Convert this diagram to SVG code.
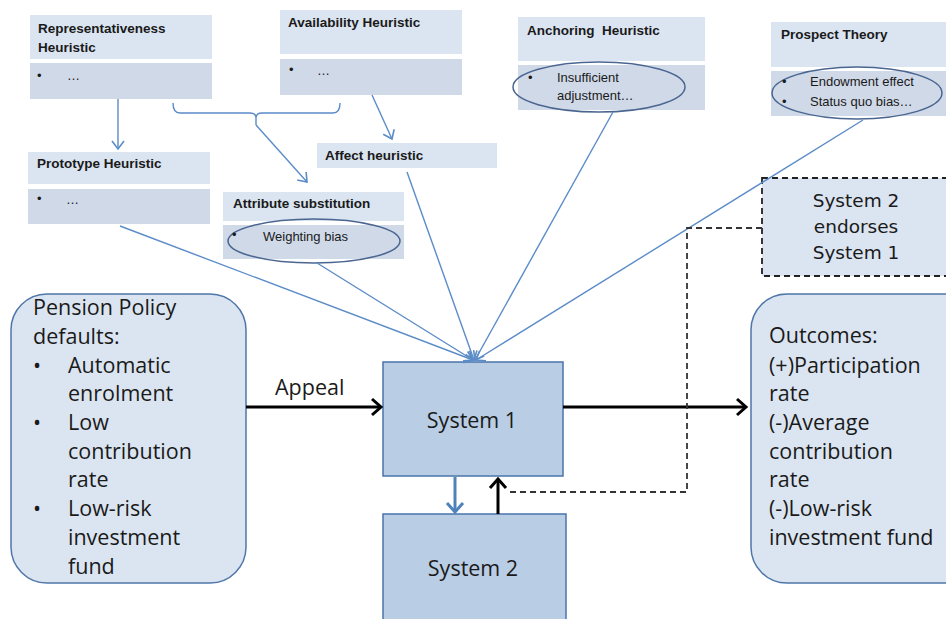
<svg xmlns="http://www.w3.org/2000/svg" width="946" height="619" viewBox="0 0 946 619">
<defs>
<style>
.hd{fill:#dbe5f1;}
.bl{fill:#d0d9e8;}
.ht{font-family:"Liberation Sans",Arial,sans-serif;font-weight:bold;font-size:13.5px;fill:#1a1a1a;}
.st{font-family:"Liberation Sans",Arial,sans-serif;font-size:13px;fill:#1a1a1a;}
.ell{fill:none;stroke:#4a6690;stroke-width:1.5;}
.big{font-family:"Open Sans","Liberation Sans",sans-serif;font-size:21.5px;fill:#1a1a1a;}
.rnd{fill:#dbe5f1;stroke:#4f76a8;stroke-width:1.5;}
.sys{fill:#b9cde5;stroke:#4a74aa;stroke-width:1.5;}
.comic{font-family:"DejaVu Sans",sans-serif;font-size:18.5px;fill:#1a1a1a;text-anchor:middle;}
.bc{fill:none;stroke:#5b8cc8;stroke-width:1.4;}
.blk{fill:none;stroke:#000;stroke-width:3;}
.dash{fill:none;stroke:#333;stroke-width:1.8;stroke-dasharray:6,4;}
</style>
<marker id="ab" markerUnits="userSpaceOnUse" markerWidth="16" markerHeight="16" viewBox="-10 -8 12 16" refX="0" refY="0" orient="auto">
<path d="M-8,-6 L0,0 L-8,6" fill="none" stroke="#5b8cc8" stroke-width="1.6"/>
</marker>
<marker id="abb" markerUnits="userSpaceOnUse" markerWidth="20" markerHeight="20" viewBox="-12 -10 14 20" refX="0" refY="0" orient="auto">
<path d="M-9,-8 L0,0 L-9,8" fill="none" stroke="#4f81bd" stroke-width="3"/>
</marker>
<marker id="ak" markerUnits="userSpaceOnUse" markerWidth="20" markerHeight="20" viewBox="-12 -10 14 20" refX="0" refY="0" orient="auto">
<path d="M-9,-8 L0,0 L-9,8" fill="none" stroke="#000" stroke-width="3"/>
</marker>
</defs>
<rect width="946" height="619" fill="#fff"/>

<g id="representativeness">
<rect class="hd" x="30" y="15" width="182" height="44"/>
<rect class="bl" x="30" y="63" width="182" height="36"/>
<text class="ht" x="38" y="33">Representativeness</text>
<text class="ht" x="38" y="52">Heuristic</text>
<text class="st" x="37" y="80">•</text>
<text class="st" x="67" y="80">…</text>
</g>

<g id="availability">
<rect class="hd" x="280" y="10" width="182" height="44"/>
<rect class="bl" x="280" y="59" width="182" height="36"/>
<text class="ht" x="288" y="27">Availability Heuristic</text>
<text class="st" x="289" y="74">•</text>
<text class="st" x="317" y="75">…</text>
</g>

<g id="anchoring">
<rect class="hd" x="518" y="17" width="187" height="44"/>
<rect class="bl" x="518" y="65" width="187" height="45"/>
<text class="ht" x="527" y="35" xml:space="preserve">Anchoring  Heuristic</text>
<ellipse class="ell" cx="599" cy="87" rx="86" ry="25"/>
<text class="st" x="528" y="82">•</text>
<text class="st" x="557" y="82">Insufficient</text>
<text class="st" x="557" y="100">adjustment…</text>
</g>

<g id="prospect">
<rect class="hd" x="771" y="22" width="176" height="45"/>
<rect class="bl" x="771" y="71" width="176" height="45"/>
<text class="ht" x="781" y="39">Prospect  Theory</text>
<ellipse class="ell" cx="857" cy="93" rx="85" ry="26"/>
<text class="st" x="782" y="86">•</text>
<text class="st" x="782" y="106">•</text>
<text class="st" x="810" y="86">Endowment effect</text>
<text class="st" x="810" y="106">Status quo bias…</text>
</g>

<g id="prototype">
<rect class="hd" x="28" y="152" width="182" height="32"/>
<rect class="bl" x="28" y="189" width="182" height="35"/>
<text class="ht" x="37" y="168">Prototype Heuristic</text>
<text class="st" x="37" y="203">•</text>
<text class="st" x="66" y="204">…</text>
</g>

<g id="attribute">
<rect class="hd" x="223" y="192" width="181" height="29"/>
<rect class="bl" x="223" y="225" width="181" height="34"/>
<text class="ht" x="233" y="208">Attribute substitution</text>
<ellipse class="ell" cx="314" cy="241" rx="86" ry="22"/>
<text class="st" x="232" y="239">•</text>
<text class="st" x="263" y="241">Weighting bias</text>
</g>

<g id="affect">
<rect class="hd" x="317" y="143" width="180" height="25"/>
<text class="ht" x="325" y="160">Affect heuristic</text>
</g>

<g id="endorse">
<rect x="762" y="178" width="200" height="98" fill="#dbe5f1" stroke="#222" stroke-width="1.8" stroke-dasharray="6,4"/>
<text class="comic" x="856" y="207">System 2</text>
<text class="comic" x="856" y="233">endorses</text>
<text class="comic" x="856" y="259">System 1</text>
</g>

<g id="pension">
<rect class="rnd" x="11" y="294" width="235" height="289" rx="36" ry="36"/>
<text class="big" x="33" y="315">Pension Policy</text>
<text class="big" x="33" y="344">defaults:</text>
<text class="big" x="33" y="373">•</text>
<text class="big" x="68" y="373">Automatic</text>
<text class="big" x="68" y="401">enrolment</text>
<text class="big" x="33" y="430">•</text>
<text class="big" x="68" y="430">Low</text>
<text class="big" x="68" y="459">contribution</text>
<text class="big" x="68" y="487">rate</text>
<text class="big" x="33" y="516">•</text>
<text class="big" x="68" y="516">Low-risk</text>
<text class="big" x="68" y="545">investment</text>
<text class="big" x="68" y="574">fund</text>
</g>

<g id="outcomes">
<rect class="rnd" x="751" y="294" width="230" height="289" rx="36" ry="36"/>
<text class="big" x="769" y="343">Outcomes:</text>
<text class="big" x="769" y="373">(+)Participation</text>
<text class="big" x="769" y="401">rate</text>
<text class="big" x="769" y="430">(-)Average</text>
<text class="big" x="769" y="459">contribution</text>
<text class="big" x="769" y="487">rate</text>
<text class="big" x="769" y="516">(-)Low-risk</text>
<text class="big" x="769" y="545">investment fund</text>
</g>

<g id="system1">
<rect class="sys" x="383" y="362" width="180" height="114"/>
<text class="big" x="472" y="428" text-anchor="middle">System 1</text>
</g>

<g id="system2">
<rect class="sys" x="383" y="514" width="183" height="115"/>
<text class="big" x="473" y="576" text-anchor="middle">System 2</text>
</g>

<g id="connectors">
<path class="bc" d="M118,99 L118,149" marker-end="url(#ab)"/>
<path class="bc" d="M173,103 Q173,113 180,113 L250,113 Q256,113 256,118 L256,125 M256,118 Q256,113 262,113 L333,113 Q340,113 340,103"/>
<path class="bc" d="M256,125 L307,182" marker-end="url(#ab)"/>
<path class="bc" d="M372,95 L392,139" marker-end="url(#ab)"/>
<path class="bc" d="M120,226 L473,360" marker-end="url(#ab)"/>
<path class="bc" d="M317,263 L473,360" marker-end="url(#ab)"/>
<path class="bc" d="M407,172 L474,360" marker-end="url(#ab)"/>
<path class="bc" d="M613,112 L475,360" marker-end="url(#ab)"/>
<path class="bc" d="M863,120 L476,360" marker-end="url(#ab)"/>
<path class="blk" d="M246,407 L381,407" marker-end="url(#ak)"/>
<text class="big" x="275" y="395">Appeal</text>
<path class="blk" d="M563,407 L746,407" marker-end="url(#ak)"/>
<path d="M455,477 L455,512" fill="none" stroke="#4f81bd" stroke-width="3" marker-end="url(#abb)"/>
<path class="blk" d="M498,514 L498,479" marker-end="url(#ak)"/>
<path class="dash" d="M762,228 L687,228 L687,492 L506,492"/>
</g>
</svg>
